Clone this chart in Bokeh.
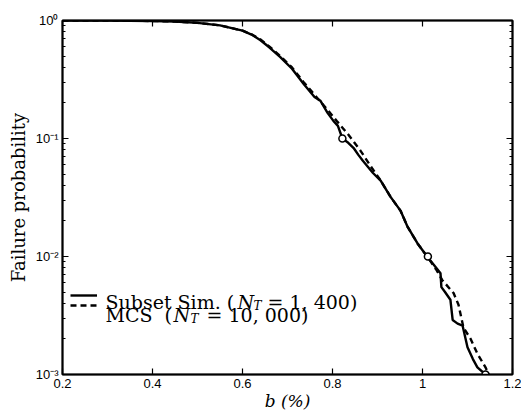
from bokeh.plotting import figure
from bokeh.models import (FixedTicker, LinearAxis, LogAxis, CustomJSTickFormatter,
                          Label, Legend, LegendItem, Range1d)
from bokeh.embed import file_html
from bokeh.resources import INLINE

# ---- data ----
b_subset = [0.20, 0.30, 0.40, 0.45, 0.50, 0.55, 0.60, 0.62, 0.64, 0.66, 0.684, 0.71,
            0.736, 0.76, 0.773, 0.789, 0.802, 0.812, 0.822, 0.835, 0.847, 0.857, 0.867,
            0.878, 0.89, 0.907, 0.929, 0.951, 0.967, 0.989, 1.012, 1.025, 1.04, 1.042,
            1.05, 1.062, 1.067, 1.078, 1.089, 1.10, 1.112, 1.122, 1.14]
p_subset = [1.0, 0.998, 0.99, 0.98, 0.955, 0.91, 0.82, 0.76, 0.68, 0.59, 0.49, 0.39,
            0.29, 0.225, 0.209, 0.165, 0.141, 0.128, 0.10, 0.092, 0.083, 0.073, 0.065,
            0.058, 0.051, 0.044, 0.032, 0.0245, 0.0178, 0.0129, 0.0098, 0.0085, 0.0072, 0.0055,
            0.0050, 0.0043, 0.0029, 0.0027, 0.0026, 0.0017, 0.00135, 0.00115, 0.001]

b_mcs = [0.20, 0.30, 0.40, 0.45, 0.50, 0.55, 0.60, 0.62, 0.64, 0.66, 0.684, 0.71,
         0.736, 0.76, 0.789, 0.81, 0.835, 0.862, 0.888, 0.907, 0.929, 0.951, 0.967,
         0.989, 1.012, 1.03, 1.044, 1.069, 1.08, 1.091, 1.107, 1.122, 1.14, 1.147]
p_mcs = [1.0, 0.998, 0.99, 0.98, 0.955, 0.91, 0.82, 0.765, 0.69, 0.60, 0.50, 0.40,
         0.30, 0.235, 0.175, 0.14, 0.108, 0.079, 0.056, 0.044, 0.032, 0.0245, 0.0178,
         0.0129, 0.0098, 0.0078, 0.0063, 0.0049, 0.0039, 0.0025, 0.0020, 0.0015, 0.00115, 0.001]

b_levels = [0.822, 1.012, 1.14]
p_levels = [0.1, 0.01, 0.001]

x_ticks = [0.2, 0.4, 0.6, 0.8, 1.0, 1.2]
y_ticks = [0.001, 0.01, 0.1, 1.0]
y_minor = [m * 10.0 ** e for e in (-3, -2, -1) for m in range(2, 10)]

# ---- layout constants ----
W, H = 521, 415
L, R, T, B = 62, 9, 20, 41
X0, X1 = 0.2, 1.2
FRAME_BOTTOM = H - B

p = figure(width=W, height=H, output_backend="svg", toolbar_location=None,
           y_axis_type="log", x_range=Range1d(X0, X1), y_range=Range1d(0.001, 1.0),
           min_border_left=L, min_border_right=R, min_border_top=T, min_border_bottom=B)
p.grid.visible = False
p.outline_line_color = "black"
p.outline_line_width = 2
p.background_fill_color = "white"
p.border_fill_color = "white"

xt = FixedTicker(ticks=x_ticks)
yt = FixedTicker(ticks=y_ticks, minor_ticks=y_minor)

xfmt = CustomJSTickFormatter(code="return String(Number(tick.toFixed(1)));")
yfmt = CustomJSTickFormatter(code="""
const e = Math.round(Math.log10(tick));
const sup = {"0":"\u2070","1":"\u00b9","2":"\u00b2","3":"\u00b3","-":"\u207b"};
return "10" + String(e).split("").map(c => sup[c]).join("");
""")


def style(ax, labels=True):
    ax.axis_line_color = "black"
    ax.axis_line_width = 1.5
    ax.major_tick_in = 6
    ax.major_tick_out = 0
    ax.minor_tick_in = 3
    ax.minor_tick_out = 0
    ax.major_tick_line_width = 1.2
    ax.minor_tick_line_width = 1
    ax.major_tick_line_color = "black"
    ax.minor_tick_line_color = "black"
    if labels:
        ax.major_label_text_font = "Liberation Sans"
        ax.major_label_text_font_size = "13px"
        ax.major_label_text_color = "black"
    else:
        ax.major_label_text_font_size = "0px"
        ax.major_label_text_color = None


SERIF = "DejaVu Serif"

xa = p.xaxis[0]
xa.ticker = xt
xa.formatter = xfmt
style(xa)
xa.minor_tick_line_color = None
xa.major_label_standoff = 4
xa.axis_label = "b (%)"
xa.axis_label_text_font = SERIF
xa.axis_label_text_font_size = "17px"
xa.axis_label_text_font_style = "italic"
xa.axis_label_text_color = "black"
xa.axis_label_standoff = 0

ya = p.yaxis[0]
ya.ticker = yt
ya.formatter = yfmt
style(ya)
ya.major_label_standoff = 4
ya.axis_label = "Failure probability"
ya.axis_label_text_font = SERIF
ya.axis_label_text_font_size = "18px"
ya.axis_label_text_font_style = "normal"
ya.axis_label_text_color = "black"
ya.axis_label_standoff = 4

top = LinearAxis(ticker=FixedTicker(ticks=x_ticks))
style(top, labels=False)
top.minor_tick_line_color = None
p.add_layout(top, "above")

right = LogAxis(ticker=FixedTicker(ticks=y_ticks, minor_ticks=y_minor))
style(right, labels=False)
p.add_layout(right, "right")

r_ss = p.line(b_subset, p_subset, line_color="black", line_width=2.4)
r_mcs = p.line(b_mcs, p_mcs, line_color="black", line_width=2.4, line_dash="6 4")
p.scatter(b_levels, p_levels, marker="circle", size=7, fill_color="white",
          line_color="black", line_width=1.5)

# legend samples
leg = Legend(items=[LegendItem(label=" ", renderers=[r_ss]),
                    LegendItem(label=" ", renderers=[r_mcs])],
             location=(8, 64), glyph_width=27, glyph_height=10, label_height=10,
             label_width=1, label_standoff=0, spacing=0, padding=0, margin=0,
             label_text_font_size="1px", background_fill_color=None,
             border_line_color=None)
p.add_layout(leg, "center")


def lab(x, y, text, size=19, style="normal"):
    # x, y given as canvas pixels; converted to frame-relative screen units
    p.add_layout(Label(x=x - L, y=FRAME_BOTTOM - y, x_units="screen", y_units="screen",
                       text=text, text_font=SERIF, text_font_size=f"{size}px",
                       text_font_style=style, text_align="left", text_baseline="alphabetic",
                       text_color="black"))


# legend texts (with subscripts)
lab(105, 301, "Subset Sim. (")
lab(237, 301, "N", style="italic")
lab(253, 305, "T", size=12, style="italic")
lab(267, 301, "= 1, 400)")
lab(105, 314, "MCS")
lab(164, 314, "(")
lab(173, 314, "N", style="italic")
lab(190, 318, "T", size=12, style="italic")
lab(206, 314, "= 10, 000)")

open("out.html", "w").write(file_html(p, INLINE))
